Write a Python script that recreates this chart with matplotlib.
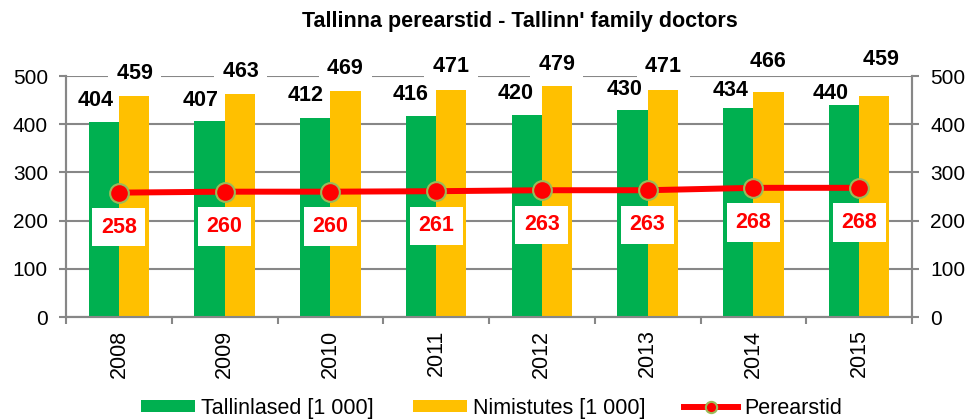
import numpy as np
import matplotlib
matplotlib.use("Agg")
import matplotlib.pyplot as plt

# andmed
aastad = ["2008", "2009", "2010", "2011", "2012", "2013", "2014", "2015"]
tallinlased = [404, 407, 412, 416, 420, 430, 434, 440]
nimistutes = [459, 463, 469, 471, 479, 471, 466, 459]
perearstid = [258, 260, 260, 261, 263, 263, 268, 268]

# siltide asukohad (käsitsi paigutatud nagu originaalis)
silt_x_roheline = [-0.22, -0.23, -0.23, -0.24, -0.25, -0.22, -0.22, -0.27]
silt_y_roheline = [450, 450, 459, 462, 463, 473, 469, 464]
silt_x_kollane = [0.15, 0.15, 0.14, 0.14, 0.14, 0.15, 0.14, 0.21]
silt_y_kollane = [506, 510, 515, 519, 524, 519, 531, 534]

plt.rcParams['font.family'] = ['Liberation Sans', 'DejaVu Sans']

roheline = '#00B050'
kollane = '#FFC000'
punane = '#FF0000'
hall = '#878787'

fig = plt.figure(figsize=(9.68, 4.19), dpi=100)
ax = fig.add_axes([66 / 968, 1 - 317 / 419, (912 - 66) / 968, (317 - 76) / 419])
ax2 = ax.twinx()

x = np.arange(len(aastad))
w = 0.285

b1 = ax.bar(x - w / 2, tallinlased, w, color=roheline, zorder=2)
b2 = ax.bar(x + w / 2, nimistutes, w, color=kollane, zorder=2)
l1, = ax.plot(x, perearstid, color=punane, lw=4.3, marker='o', markersize=13.5,
              markerfacecolor=punane, markeredgecolor='#9BBB59', markeredgewidth=1.5,
              zorder=4)

# sildid
for i in range(len(aastad)):
    ax.text(x[i] + silt_x_kollane[i], silt_y_kollane[i], f" {nimistutes[i]} ",
            ha='center', va='center', fontsize=15.5, fontweight='bold', clip_on=False,
            zorder=5, bbox=dict(boxstyle='square,pad=0.12', fc='white', ec='none'))
    ax.text(x[i] + silt_x_roheline[i], silt_y_roheline[i], str(tallinlased[i]),
            ha='center', va='center', fontsize=15.5, fontweight='bold', clip_on=False,
            zorder=6)
    ax.annotate(str(perearstid[i]), (x[i], perearstid[i]), xytext=(0, -25),
                textcoords='offset points', ha='center', va='center', fontsize=15.5,
                fontweight='bold', color=punane, annotation_clip=False, zorder=5,
                bbox=dict(boxstyle='square,pad=0.4', fc='white', ec='none'))

for a in (ax, ax2):
    a.set_xlim(-0.5, len(aastad) - 0.5)
    a.set_ylim(0, 500)
    a.set_yticks(range(0, 501, 100))
    a.tick_params(axis='y', labelsize=15, color=hall, width=1.5, length=5, pad=8)
    a.spines['top'].set_visible(False)
    for s in ('left', 'right', 'bottom'):
        a.spines[s].set_color(hall)
        a.spines[s].set_linewidth(1.5)

ax.set_zorder(ax2.get_zorder() + 1)
ax.patch.set_visible(False)
ax.yaxis.grid(True, color=hall, lw=1.5, zorder=0)
ax.set_axisbelow(True)

ax.set_xticks(x)
ax.set_xticklabels(aastad, rotation=90, fontsize=15.5)
ax.tick_params(axis='x', length=0, pad=9)
ax.set_xticks(np.arange(-0.5, len(aastad), 1), minor=True)
ax.tick_params(axis='x', which='minor', length=5, color=hall, width=1.5)
ax2.tick_params(axis='x', length=0)

fig.suptitle("Tallinna perearstid - Tallinn' family doctors", fontsize=15.5,
             fontweight='bold', x=520 / 968, y=1 - 22 / 419, va='center')

fig.legend([b1, b2, l1], ['Tallinlased [1 000]', 'Nimistutes [1 000]', 'Perearstid'],
           loc='center', bbox_to_anchor=(0.508, 1 - 408 / 419), ncol=3, frameon=False,
           fontsize=15.5, handlelength=2.5, handleheight=0.5, columnspacing=1.8,
           handletextpad=0.3, markerscale=0.6, borderpad=0)

fig.savefig("out.png", dpi=100)
